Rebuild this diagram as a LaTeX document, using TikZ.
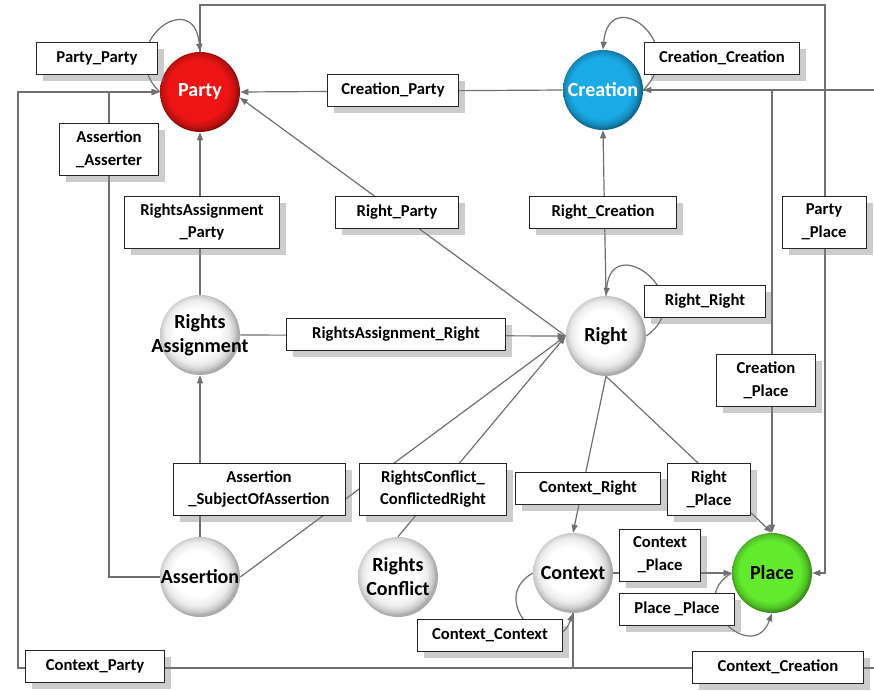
\documentclass[tikz,border=0pt]{standalone}
\usepackage{fontspec}
\setmainfont{Carlito}
\usepackage{tikz}
\usetikzlibrary{arrows.meta}
\usetikzlibrary{shadows}
\definecolor{partyred}{HTML}{EC1414}
\definecolor{creationblue}{HTML}{1AAAE6}
\definecolor{placegreen}{HTML}{62EA2E}
\definecolor{linkgray}{HTML}{707070}
\newcommand{\MakeButton}[2]{\pgfdeclareradialshading{#1}{\pgfpoint{-2bp}{2bp}}{color(0bp)=(#2); color(19bp)=(#2); color(23bp)=(#2!82!black); color(25bp)=(#2!62!black); color(50bp)=(#2!62!black)}}
\MakeButton{partybutton}{partyred}
\MakeButton{creationbutton}{creationblue}
\MakeButton{placebutton}{placegreen}
\pgfdeclareradialshading{graybutton}{\pgfpoint{-3bp}{3bp}}{color(0bp)=(white); color(14bp)=(white); color(20bp)=(gray!15); color(23.5bp)=(gray!42); color(25bp)=(gray!65); color(50bp)=(gray!65)}
\newcommand{\Wide}[1]{\makebox[0pt]{#1}}

\begin{document}
\begin{tikzpicture}[
x=0.75pt, y=-0.75pt,
ClassNode/.style={circle, minimum size=60pt, inner sep=0pt, align=center, font=\fontsize{15}{18}\selectfont\bfseries},
GrayClass/.style={ClassNode, shading=graybutton, text=black},
RelBox/.style={draw=black!85, fill=white, line width=0.7pt, align=center, inner sep=2pt, minimum height=24pt, font=\fontsize{12.5}{17}\selectfont\bfseries, drop shadow={shadow xshift=5pt, shadow yshift=-5pt, fill=black!50, opacity=0.4}},
TwoLine/.style={minimum height=39pt},
Link/.style={draw=linkgray, line width=0.9pt, -{Triangle[length=6pt,width=4.5pt]}}
]

\useasboundingbox (0,0) rectangle (874,690);
\clip (0,0) rectangle (874,690);

% classes
\node[ClassNode, shading=partybutton, text=white] (Party) at (200,92) {Party};
\node[ClassNode, shading=creationbutton, text=white] (Creation) at (603,90) {Creation};
\node[GrayClass] (Right) at (606,336) {Right};
\node[GrayClass] (RightsAssignment) at (200,335) {\Wide{Rights}\\\Wide{Assignment}};
\node[GrayClass] (Assertion) at (200,577) {\Wide{Assertion}};
\node[GrayClass] (RightsConflict) at (398,577) {\Wide{Rights}\\\Wide{Conflict}};
\node[GrayClass] (Context) at (573,573) {Context};
\node[ClassNode, shading=placebutton, text=black] (Place) at (772,573) {Place};

% bends of the long links
\coordinate (PartyPlaceTurn) at (825,5);
\coordinate (AsserterTurn) at (109,92);
\coordinate (ContextLeftTurn) at (18,668);
\coordinate (ContextRightTurn) at (880,668);

% links
\draw[Link] (Creation.west) -- (Party.east);
\draw[Link] (Right.west) -- (Party.-8);
\draw[Link] (RightsAssignment.north) -- (Party.south);
\draw[Link] (Right.north) -- (Creation.south);
\draw[Link] (RightsAssignment.east) -- (Right.west);
\draw[Link] (Assertion.north) -- (RightsAssignment.south);
\draw[Link] (Assertion.east) -- (Right.west);
\draw[Link] (RightsConflict.north) -- (Right.west);
\draw[Link] (Right.south) -- (Context.north);
\draw[Link] (Right.south) -- (Place.north);
\draw[Link] (Context.east) -- (Place.west);
\draw[Link] (Creation.east) -| (Place.north);
\draw[Link] (Party.north) |- (PartyPlaceTurn) |- (Place.east);
\draw[Link] (Assertion.west) -| (AsserterTurn) -- (Party.west);
\draw[Link] (Context.south) |- (ContextLeftTurn) |- (Party.west);
\draw[Link] (Context.south) |- (ContextRightTurn) |- (Creation.east);

% self links
\draw[Link] (Party.west) to[out=135,in=95,looseness=3] (Party.north);
\draw[Link] (Creation.east) to[out=45,in=85,looseness=3] (Creation.north);
\draw[Link] (Right.east) to[out=35,in=85,looseness=3] (Right.north);
\draw[Link] (Context.west) to[out=210,in=250,looseness=2.5] (Context.south);
\draw[Link] (Place.west) to[out=210,in=250,looseness=2.5] (Place.south);

% link names
\node[RelBox, minimum width=91pt] (PartyPartyBox) at (97,58) {Party\_Party};
\node[RelBox, minimum width=98pt] (CreationPartyBox) at (393,90) {Creation\_Party};
\node[RelBox, minimum width=116pt] (CreationCreationBox) at (722,58) {Creation\_Creation};
\node[RelBox, TwoLine, minimum width=74pt] (AssertionAsserterBox) at (109,149) {Assertion\\\_Asserter};
\node[RelBox, TwoLine, minimum width=116pt] (RightsAssignmentPartyBox) at (202,222) {RightsAssignment\\\_Party};
\node[RelBox, minimum width=92pt] (RightPartyBox) at (397,212) {Right\_Party};
\node[RelBox, minimum width=110pt] (RightCreationBox) at (603,212) {Right\_Creation};
\node[RelBox, TwoLine, minimum width=63pt] (PartyPlaceBox) at (824,222) {Party\\\_Place};
\node[RelBox, minimum width=91pt] (RightRightBox) at (705,301) {Right\_Right};
\node[RelBox, minimum width=164pt] (RightsAssignmentRightBox) at (396,334) {RightsAssignment\_Right};
\node[RelBox, TwoLine, minimum width=74pt] (CreationPlaceBox) at (766,380) {Creation\\\_Place};
\node[RelBox, TwoLine, minimum width=129pt] (SubjectBox) at (259,489) {Assertion\\\_SubjectOfAssertion};
\node[RelBox, TwoLine, minimum width=110pt] (ConflictedRightBox) at (433,489) {RightsConflict\_\\ConflictedRight};
\node[RelBox, minimum width=109pt] (ContextRightBox) at (588,488) {Context\_Right};
\node[RelBox, TwoLine, minimum width=62pt] (RightPlaceBox) at (709,489) {Right\\\_Place};
\node[RelBox, TwoLine, minimum width=61pt] (ContextPlaceBox) at (660,555) {Context\\\_Place};
\node[RelBox, minimum width=86pt] (PlacePlaceBox) at (677,609) {Place \_Place};
\node[RelBox, minimum width=109pt] (ContextContextBox) at (490,635) {Context\_Context};
\node[RelBox, minimum width=104pt] (ContextPartyBox) at (95,666) {Context\_Party};
\node[RelBox, minimum width=128pt] (ContextCreationBox) at (778,667) {Context\_Creation};

\end{tikzpicture}
\end{document}
